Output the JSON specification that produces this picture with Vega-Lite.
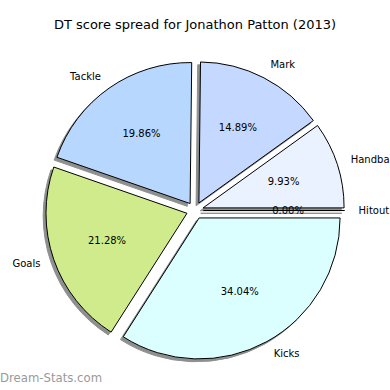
{
  "$schema": "https://vega.github.io/schema/vega-lite/v6.json",
  "width": 390,
  "height": 355,
  "autosize": {"type": "none"},
  "padding": {"top": 33, "left": 0, "right": 0, "bottom": 0},
  "background": "white",
  "title": {"text": "DT score spread for Jonathon Patton (2013)", "font": "DejaVu Sans", "fontSize": 13, "fontWeight": "normal", "color": "#000000", "offset": 0, "dy": -1, "anchor": "middle"},
  "config": {"view": {"stroke": null}},
  "data": {"values": [
    {"label": "Hitout", "share": 0},
    {"label": "Handball", "share": 0.0993},
    {"label": "Mark", "share": 0.1489},
    {"label": "Tackle", "share": 0.1986},
    {"label": "Goals", "share": 0.2128},
    {"label": "Kicks", "share": 0.3404}
  ]},
  "transform": [{"stack": "share", "groupby": [], "as": ["v0", "v1"]}],
  "layer": [
    {"transform": [{"filter": "datum.label==='Hitout'"}], "mark": {"type": "arc", "outerRadius": 141, "xOffset": 5.7, "yOffset": 2.8, "fill": "#8e9090", "stroke": "#8e9090", "strokeWidth": 1},
     "encoding": {"theta": {"field": "v0", "type": "quantitative", "scale": {"domain": [0, 1], "range": [1.5707963, -4.712389]}}, "theta2": {"field": "v1"}}},
    {"transform": [{"filter": "datum.label==='Handball'"}], "mark": {"type": "arc", "outerRadius": 141, "xOffset": 5.29, "yOffset": 0.19, "fill": "#8e9090", "stroke": "#8e9090", "strokeWidth": 1},
     "encoding": {"theta": {"field": "v0", "type": "quantitative"}, "theta2": {"field": "v1"}}},
    {"transform": [{"filter": "datum.label==='Mark'"}], "mark": {"type": "arc", "outerRadius": 141, "xOffset": 1.12, "yOffset": -4.74, "fill": "#8e9090", "stroke": "#8e9090", "strokeWidth": 1},
     "encoding": {"theta": {"field": "v0", "type": "quantitative"}, "theta2": {"field": "v1"}}},
    {"transform": [{"filter": "datum.label==='Tackle'"}], "mark": {"type": "arc", "outerRadius": 141, "xOffset": -7.69, "yOffset": -4.16, "fill": "#8e9090", "stroke": "#8e9090", "strokeWidth": 1},
     "encoding": {"theta": {"field": "v0", "type": "quantitative"}, "theta2": {"field": "v1"}}},
    {"transform": [{"filter": "datum.label==='Goals'"}], "mark": {"type": "arc", "outerRadius": 141, "xOffset": -10.83, "yOffset": 5.59, "fill": "#8e9090", "stroke": "#8e9090", "strokeWidth": 1},
     "encoding": {"theta": {"field": "v0", "type": "quantitative"}, "theta2": {"field": "v1"}}},
    {"transform": [{"filter": "datum.label==='Kicks'"}], "mark": {"type": "arc", "outerRadius": 141, "xOffset": 1.29, "yOffset": 10.25, "fill": "#8e9090", "stroke": "#8e9090", "strokeWidth": 1},
     "encoding": {"theta": {"field": "v0", "type": "quantitative"}, "theta2": {"field": "v1"}}},
    {"transform": [{"filter": "datum.label==='Hitout'"}], "mark": {"type": "arc", "outerRadius": 141, "xOffset": 8.5, "yOffset": 0, "stroke": "#000000", "strokeWidth": 1, "opacity": 1},
     "encoding": {"theta": {"field": "v0", "type": "quantitative"}, "theta2": {"field": "v1"}, "color": {"field": "label", "type": "nominal", "legend": null, "scale": {"domain": ["Hitout", "Handball", "Mark", "Tackle", "Goals", "Kicks"], "range": ["#ffffff", "#eaf2ff", "#c5d8ff", "#b7d7ff", "#d0eb8b", "#dbffff"]}}}},
    {"transform": [{"filter": "datum.label==='Handball'"}], "mark": {"type": "arc", "outerRadius": 141, "xOffset": 8.09, "yOffset": -2.61, "stroke": "#000000", "strokeWidth": 1, "opacity": 1},
     "encoding": {"theta": {"field": "v0", "type": "quantitative"}, "theta2": {"field": "v1"}, "color": {"field": "label", "type": "nominal", "legend": null}}},
    {"transform": [{"filter": "datum.label==='Mark'"}], "mark": {"type": "arc", "outerRadius": 141, "xOffset": 3.92, "yOffset": -7.54, "stroke": "#000000", "strokeWidth": 1, "opacity": 1},
     "encoding": {"theta": {"field": "v0", "type": "quantitative"}, "theta2": {"field": "v1"}, "color": {"field": "label", "type": "nominal", "legend": null}}},
    {"transform": [{"filter": "datum.label==='Tackle'"}], "mark": {"type": "arc", "outerRadius": 141, "xOffset": -4.89, "yOffset": -6.96, "stroke": "#000000", "strokeWidth": 1, "opacity": 1},
     "encoding": {"theta": {"field": "v0", "type": "quantitative"}, "theta2": {"field": "v1"}, "color": {"field": "label", "type": "nominal", "legend": null}}},
    {"transform": [{"filter": "datum.label==='Goals'"}], "mark": {"type": "arc", "outerRadius": 141, "xOffset": -8.03, "yOffset": 2.79, "stroke": "#000000", "strokeWidth": 1, "opacity": 1},
     "encoding": {"theta": {"field": "v0", "type": "quantitative"}, "theta2": {"field": "v1"}, "color": {"field": "label", "type": "nominal", "legend": null}}},
    {"transform": [{"filter": "datum.label==='Kicks'"}], "mark": {"type": "arc", "outerRadius": 141, "xOffset": 4.09, "yOffset": 7.45, "stroke": "#000000", "strokeWidth": 1, "opacity": 1},
     "encoding": {"theta": {"field": "v0", "type": "quantitative"}, "theta2": {"field": "v1"}, "color": {"field": "label", "type": "nominal", "legend": null}}},
    {"mark": {"type": "text", "radius": 163.6, "align": "right", "baseline": "middle", "font": "DejaVu Sans", "fontSize": 10, "color": "#000000"},
     "encoding": {"theta": {"field": "share", "type": "quantitative", "stack": true}, "order": {"field": "v0", "type": "quantitative"}, "text": {"condition": {"test": "datum.label==='Tackle'||datum.label==='Goals'", "field": "label"}, "value": ""}}},
    {"mark": {"type": "text", "radius": 163.6, "align": "left", "baseline": "middle", "font": "DejaVu Sans", "fontSize": 10, "color": "#000000"},
     "encoding": {"theta": {"field": "share", "type": "quantitative", "stack": true}, "order": {"field": "v0", "type": "quantitative"}, "text": {"condition": {"test": "datum.label!=='Tackle'&&datum.label!=='Goals'", "field": "label"}, "value": ""}}},
    {"mark": {"type": "text", "radius": 93.1, "align": "center", "baseline": "middle", "font": "DejaVu Sans", "fontSize": 10, "color": "#000000"},
     "encoding": {"theta": {"field": "share", "type": "quantitative", "stack": true}, "order": {"field": "v0", "type": "quantitative"}, "text": {"field": "share", "type": "quantitative", "format": ".2%"}}},
    {"data": {"values": [{"site": "Dream-Stats.com"}]}, "mark": {"type": "text", "x": 0, "y": 349, "align": "left", "baseline": "alphabetic", "font": "DejaVu Sans", "fontSize": 11.7, "color": "#9a9a9a"},
     "encoding": {"text": {"field": "site", "type": "nominal"}}}
  ]
}
